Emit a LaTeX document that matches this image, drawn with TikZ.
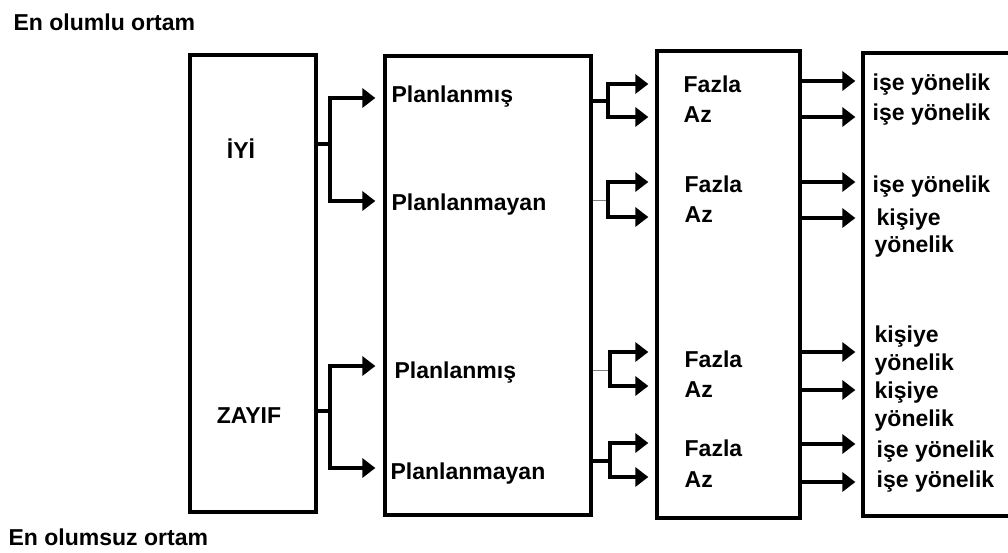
\documentclass[tikz,border=0pt]{standalone}
\usepackage{fontspec}
\setmainfont{Liberation Sans}
\usetikzlibrary{arrows.meta}

\begin{document}
\begin{tikzpicture}[x=1pt,y=-1pt,>={Triangle[length=13pt,width=19pt]},line width=3.3pt,
            font=\bfseries\fontsize{23}{27}\selectfont]
            \tikzstyle{box}=[draw,inner sep=0pt]
            \tikzstyle{lbl}=[anchor=base west,inner sep=0pt]
            \tikzstyle{be}=[->,shorten >=8pt]
            \tikzstyle{thin}=[line width=1pt,gray]

            \useasboundingbox (0,0) rectangle (1008,552);

            \node[lbl] (best) at (12,30) {En olumlu ortam};
            \node[lbl] (worst) at (7,545) {En olumsuz ortam};

            \node[box,minimum width=126pt,minimum height=457pt] (level) at (253,283.5) {};
            \node[box,minimum width=206pt,minimum height=459pt] (plan) at (488,285.5) {};
            \node[box,minimum width=143pt,minimum height=467pt] (amount) at (728.5,284.5) {};
            \node[box,minimum width=160pt,minimum height=463pt] (focus) at (943,284.5) {};

            \node[anchor=base] (good) at (241,158) {İYİ};
            \node[anchor=base] (weak) at (249,423) {ZAYIF};

            \node[lbl] (plan1) at (390,102) {Planlanmış};
            \node[lbl] (unplan1) at (390,210) {Planlanmayan};
            \node[lbl] (plan2) at (393,378) {Planlanmış};
            \node[lbl] (unplan2) at (389,479) {Planlanmayan};

            \node[lbl] (more1) at (682,92) {Fazla};
            \node[lbl] (less1) at (682,122) {Az};
            \node[lbl] (more2) at (683,192) {Fazla};
            \node[lbl] (less2) at (683,222) {Az};
            \node[lbl] (more3) at (683,367) {Fazla};
            \node[lbl] (less3) at (683,397) {Az};
            \node[lbl] (more4) at (683,456) {Fazla};
            \node[lbl] (less4) at (683,487) {Az};

            \node[lbl] (task1) at (871,90) {işe yönelik};
            \node[lbl] (task2) at (871,120) {işe yönelik};
            \node[lbl] (task3) at (871,192) {işe yönelik};
            \node[lbl] (person1) at (875,225) {kişiye};
            \node[lbl] (person1b) at (873,252) {yönelik};
            \node[lbl] (person2) at (873,342) {kişiye};
            \node[lbl] (person2b) at (873,370) {yönelik};
            \node[lbl] (person3) at (873,398) {kişiye};
            \node[lbl] (person3b) at (873,426) {yönelik};
            \node[lbl] (task4) at (875,457) {işe yönelik};
            \node[lbl] (task5) at (875,487) {işe yönelik};

            % first split
            \coordinate (s1) at (330,144);
            \coordinate (s1a) at (330,98);
            \coordinate (s1b) at (330,201);
            \coordinate (s2) at (330,411);
            \coordinate (s2a) at (330,366);
            \coordinate (s2b) at (330,468);
            \draw (level.east |- s1) -- (s1);
            \draw (level.east |- s2) -- (s2);
            \draw[be] (s1) |- (plan.west |- s1a);
            \draw[be] (s1) |- (plan.west |- s1b);
            \draw[be] (s2) |- (plan.west |- s2a);
            \draw[be] (s2) |- (plan.west |- s2b);

            % second split
            \coordinate (s3) at (608,101);
            \coordinate (s3a) at (608,84);
            \coordinate (s3b) at (608,117);
            \coordinate (s4) at (608,200);
            \coordinate (s4a) at (608,182);
            \coordinate (s4b) at (608,217);
            \coordinate (s5) at (610,370);
            \coordinate (s5a) at (610,352);
            \coordinate (s5b) at (610,386);
            \coordinate (s6) at (610,461);
            \coordinate (s6a) at (610,443);
            \coordinate (s6b) at (610,477);
            \draw (plan.east |- s3) -- (s3);
            \draw[thin] (plan.east |- s4) -- (s4);
            \draw[thin] (plan.east |- s5) -- (s5);
            \draw (plan.east |- s6) -- (s6);
            \foreach \s in {s3,s4,s5,s6} {
                \draw[be,shorten >=7pt] (\s) |- (amount.west |- \s a);
                \draw[be,shorten >=7pt] (\s) |- (amount.west |- \s b);
            }

            % last column
            \foreach \y in {81,117,182,218,352,390,444,482}
                \draw[be,shorten >=6pt] (amount.east |- 0,\y) -- (focus.west |- 0,\y);
        \end{tikzpicture}
\end{document}
